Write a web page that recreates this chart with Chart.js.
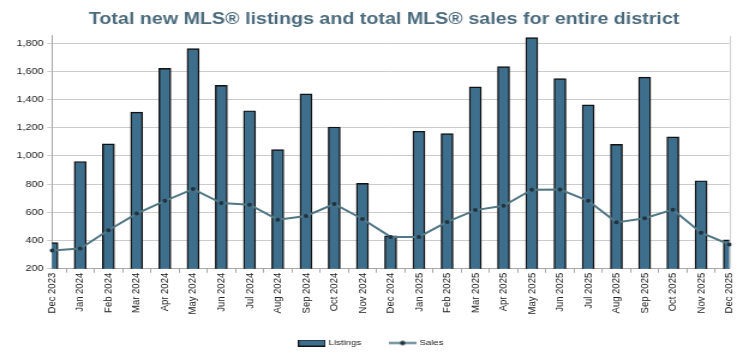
<!DOCTYPE html>
<html>
<head>
<meta charset="utf-8">
<script src="https://cdn.jsdelivr.net/npm/chart.js@4.4.1/dist/chart.umd.min.js"></script>
<style>
  html, body { margin: 0; padding: 0; background: #ffffff; overflow: hidden; width: 743px; height: 353px; }
  #wrap { width: 619px; height: 357px; transform: scaleX(1.2003); transform-origin: 0 0; }
  canvas { display: block; }
</style>
</head>
<body>
<div id="wrap"><canvas id="c" width="619" height="357"></canvas></div>
<script>
const categories = ['Dec 2023','Jan 2024','Feb 2024','Mar 2024','Apr 2024','May 2024','Jun 2024','Jul 2024','Aug 2024','Sep 2024','Oct 2024','Nov 2024','Dec 2024','Jan 2025','Feb 2025','Mar 2025','Apr 2025','May 2025','Jun 2025','Jul 2025','Aug 2025','Sep 2025','Oct 2025','Nov 2025','Dec 2025'];
const listings = [385, 960, 1085, 1310, 1620, 1760, 1500, 1320, 1045, 1440, 1205, 805, 433, 1175, 1158, 1489, 1633, 1838, 1548, 1362, 1082, 1558, 1135, 824, 405];
const sales = [330, 343, 473, 591, 682, 765, 666, 654, 548, 574, 659, 553, 426, 426, 532, 616, 647, 760, 762, 682, 529, 558, 619, 456, 372];
const yTickValues = [200, 400, 600, 800, 1000, 1200, 1400, 1600, 1800];
const yMin = 200;
const yMax = 1850;
const titleText = 'Total new MLS® listings and total MLS® sales for entire district';
const seriesNames = ['Listings', 'Sales'];

const BAR = '#3d6e8c';
const LINE = '#527886';
const DOT = '#1f3440';
const FONT = "'Liberation Sans', Arial, sans-serif";

function makeListImg() {
  const c = document.createElement('canvas'); c.width = 23; c.height = 7;
  const g = c.getContext('2d');
  g.fillStyle = BAR; g.fillRect(0.5, 0.5, 22, 6);
  g.strokeStyle = '#151515'; g.lineWidth = 1; g.strokeRect(0.5, 0.5, 22, 6);
  return c;
}
function makeSalesImg() {
  const c = document.createElement('canvas'); c.width = 23; c.height = 7;
  const g = c.getContext('2d');
  g.strokeStyle = LINE; g.lineWidth = 2;
  g.beginPath(); g.moveTo(0, 3.5); g.lineTo(23, 3.5); g.stroke();
  g.fillStyle = DOT; g.beginPath(); g.arc(11.5, 3.5, 2.2, 0, Math.PI * 2); g.fill();
  return c;
}
const legendImgs = [makeListImg(), makeSalesImg()];

const edgePlugin = {
  id: 'edge',
  afterLayout(chart) {
    const t = chart.titleBlock;
    if (t) { t.left += 10.4; t.right += 10.4; }
  },
  beforeDatasetsDraw(chart) {
    const a = chart.chartArea, ctx = chart.ctx;
    ctx.save();
    ctx.strokeStyle = '#cfcfcf'; ctx.lineWidth = 1;
    ctx.beginPath(); ctx.moveTo(Math.round(a.right) + 0.5, a.top); ctx.lineTo(Math.round(a.right) + 0.5, a.bottom); ctx.stroke();
    ctx.restore();
  }
};

new Chart(document.getElementById('c'), {
  data: {
    labels: categories,
    datasets: [
      {
        type: 'line', label: seriesNames[1], data: sales, order: 0,
        borderColor: LINE, borderWidth: 2, tension: 0,
        pointRadius: 2, pointBackgroundColor: DOT, pointBorderColor: DOT, pointBorderWidth: 0,
        pointHoverRadius: 2
      },
      {
        type: 'bar', label: seriesNames[0], data: listings, order: 1,
        backgroundColor: BAR, borderColor: '#121212', borderWidth: 1.4, borderSkipped: false,
        barThickness: 10, clip: 0
      }
    ]
  },
  options: {
    responsive: false,
    animation: false,
    devicePixelRatio: 1,
    layout: { padding: { left: 10, right: 9.8, top: 0, bottom: 0 } },
    plugins: {
      tooltip: { enabled: false },
      title: {
        display: true, text: titleText, color: '#4b6b7d',
        font: { family: FONT, size: 16.4, weight: 'bold' },
        padding: { top: 9.5, bottom: 6.8 }
      },
      legend: {
        display: true, position: 'bottom',
        labels: {
          usePointStyle: true, pointStyleWidth: 20, padding: 24.5,
          color: '#222', font: { family: FONT, size: 8 },
          generateLabels(chart) {
            const items = Chart.defaults.plugins.legend.labels.generateLabels(chart);
            items.sort((a, b) => a.datasetIndex === 1 ? -1 : 1);
            items.forEach(it => { it.pointStyle = it.datasetIndex === 1 ? legendImgs[0] : legendImgs[1]; it.lineWidth = 0; });
            return items;
          }
        }
      }
    },
    scales: {
      x: {
        type: 'category', offset: false,
        grid: { display: true, drawOnChartArea: false, drawTicks: true, tickLength: 4, color: '#a8a8a8' },
        border: { display: true, color: '#a8a8a8' },
        ticks: {
          autoSkip: false, minRotation: 90, maxRotation: 90, padding: 0,
          color: '#222', font: { family: FONT, size: 9.5 }
        }
      },
      y: {
        type: 'linear', min: yMin, max: yMax,
        afterBuildTicks(scale) { scale.ticks = yTickValues.map(v => ({ value: v })); },
        grid: { color: '#cccccc', tickLength: 4, drawTicks: true },
        border: { display: true, color: '#a8a8a8' },
        ticks: {
          padding: 3, color: '#222', includeBounds: false,
          font: { family: FONT, size: 9 },
          callback: v => Number(v).toLocaleString('en-US')
        },
        afterFit(scale) { scale.width = 33.3; }
      }
    }
  },
  plugins: [edgePlugin]
});
</script>
</body>
</html>
